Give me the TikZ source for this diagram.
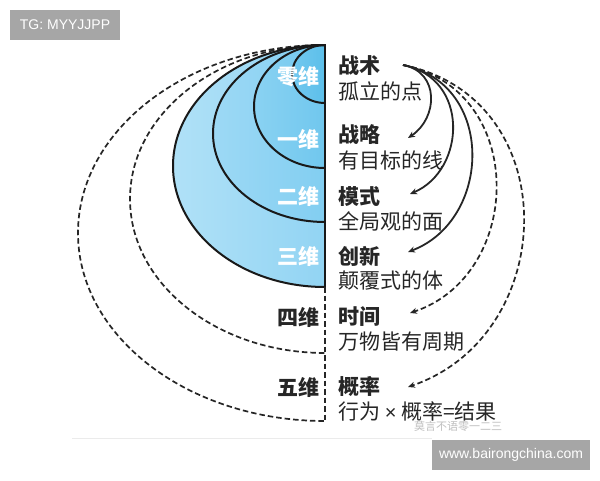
\documentclass[tikz,border=0pt]{standalone}
\usepackage{fontspec}
\setmainfont{Noto Sans CJK SC}
\newfontfamily\latinsans{Liberation Sans}
\usetikzlibrary{arrows.meta}
\definecolor{rA}{HTML}{5CBFEA}
\definecolor{rAl}{HTML}{72C8EF}
\definecolor{rB}{HTML}{70C7EE}
\definecolor{rBl}{HTML}{8AD2F2}
\definecolor{rC}{HTML}{82CEF1}
\definecolor{rCl}{HTML}{9DD9F5}
\definecolor{rD}{HTML}{92D4F3}
\definecolor{rDl}{HTML}{B0E1F7}
\definecolor{wmgray}{HTML}{A6A6A6}
\tikzset{
  ring/.style={draw=black!90, line width=2pt},
  dring/.style={draw=black!85, line width=1.7pt, dash pattern=on 5.5pt off 3pt},
  title/.style={anchor=west, inner sep=0pt, font=\fontsize{21}{21}\selectfont\bfseries, text=black!85},
  desc/.style={anchor=west, inner sep=0pt, font=\fontsize{21}{21}\selectfont, text=black!85},
  dimw/.style={anchor=east, inner sep=0pt, font=\fontsize{21}{21}\selectfont\bfseries, text=white},
  dimb/.style={anchor=east, inner sep=0pt, font=\fontsize{21}{21}\selectfont\bfseries, text=black!85},
  sarrow/.style={draw=black!85, line width=1.8pt, -{Stealth[length=7pt,width=6pt]}},
  darrow/.style={draw=black!85, line width=1.7pt, dash pattern=on 5.5pt off 3pt, -{Stealth[length=7pt,width=6pt]}},
  tagbox/.style={fill=wmgray, text=white, inner sep=0pt, font=\latinsans\fontsize{14}{14}\selectfont}
}
\begin{document}
\begin{tikzpicture}[x=1pt,y=-1pt]
\useasboundingbox (0,0) rectangle (600,480);
\fill[white] (0,0) rectangle (600,480);
% faint bottom edge line
\draw[black!8, line width=0.8pt] (72,438) -- (432,438);
% filled regions
\shade[left color=rDl, right color=rD] (325,45) arc[start angle=270,end angle=90,x radius=152,y radius=121] -- cycle;
\shade[left color=rCl, right color=rC] (325,45) arc[start angle=270,end angle=90,x radius=112,y radius=88.5] -- cycle;
\shade[left color=rBl, right color=rB] (325,45) arc[start angle=270,end angle=90,x radius=71,y radius=61.5] -- cycle;
\shade[left color=rAl, right color=rA] (325,45) arc[start angle=270,end angle=90,x radius=33,y radius=29] -- cycle;
% outlines
\draw[dring] (325,45) arc[start angle=270,end angle=90,x radius=247,y radius=188];
\draw[dring] (325,45) arc[start angle=270,end angle=90,x radius=195,y radius=154];
\draw[ring] (325,45) arc[start angle=270,end angle=90,x radius=152,y radius=121];
\draw[ring] (325,45) arc[start angle=270,end angle=90,x radius=112,y radius=88.5];
\draw[ring] (325,45) arc[start angle=270,end angle=90,x radius=71,y radius=61.5];
\draw[ring] (325,45) arc[start angle=270,end angle=90,x radius=33,y radius=29];
% axis
\coordinate (axtop) at (325,44);
\coordinate (axmid) at (325,287);
\coordinate (axbot) at (325,422);
\draw[ring] (axtop) -- (axmid);
\draw[dring] (axmid) -- (axbot);
% dimension labels
\node[dimw] (d0) at (320,77) {零维};
\node[dimw] (d1) at (320,139) {一维};
\node[dimw] (d2) at (320,196) {二维};
\node[dimw] (d3) at (320,256) {三维};
\node[dimb] (d4) at (320,317) {四维};
\node[dimb] (d5) at (320,387) {五维};
% right texts
\node[title] (t0) at (338,66) {战术};
\node[desc]  (s0) at (338,91) {孤立的点};
\node[title] (t1) at (338,135) {战略};
\node[desc]  (s1) at (338,160) {有目标的线};
\node[title] (t2) at (338,196) {模式};
\node[desc]  (s2) at (338,221) {全局观的面};
\node[title] (t3) at (338,256) {创新};
\node[desc]  (s3) at (338,280) {颠覆式的体};
\node[title] (t4) at (338,317) {时间};
\node[desc]  (s4) at (338,342) {万物皆有周期};
\node[title] (t5) at (338,387) {概率};
\node[desc]  (s5) at (338,411) {行为 {\latinsans\fontsize{20}{20}\selectfont ×} 概率=结果};
% arrows
\coordinate (src) at (403,65);
\coordinate (e1) at (408,138);
\coordinate (e2) at (410,194);
\coordinate (e3) at (408,252);
\coordinate (e4) at (410,313);
\coordinate (e5) at (408,387);
\draw[sarrow] (src) .. controls (440,72) and (438,118) .. (e1);
\draw[sarrow] (src) .. controls (470,78) and (466,170) .. (e2);
\draw[sarrow] (src) .. controls (496,84) and (492,220) .. (e3);
\draw[darrow] (src) .. controls (528,90) and (524,275) .. (e4);
\draw[darrow] (src) .. controls (566,98) and (560,335) .. (e5);
% watermarks
\node[text=black!25, anchor=west, inner sep=0pt, font=\fontsize{11}{11}\selectfont] (wm) at (414,426) {莫言不语零一二三};
\node[tagbox, minimum width=110pt, minimum height=30pt] (tg) at (65,25) {TG: MYYJJPP};
\node[tagbox, minimum width=158pt, minimum height=30pt] (web) at (511,455) {www.bairongchina.com};
\end{tikzpicture}
\end{document}
